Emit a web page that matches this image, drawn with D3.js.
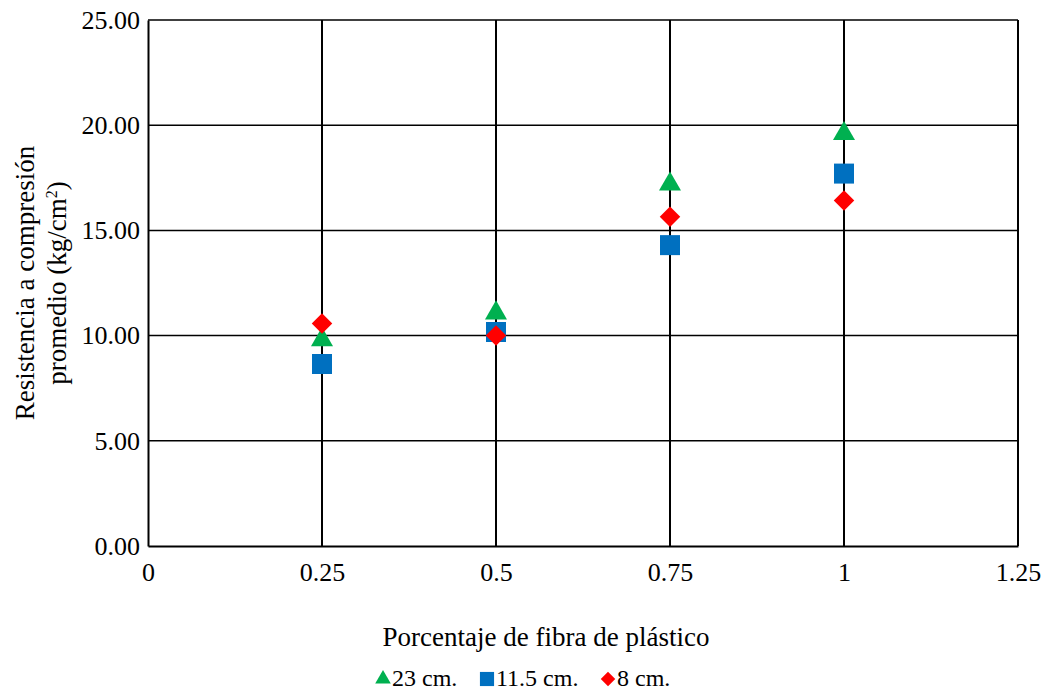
<html>
<script src="https://d3js.org/d3.v7.min.js"></script>
<style>
  body { margin: 0; background: #fff; }
  text { font-family: "Liberation Serif", "Times New Roman", serif; fill: #000; }
</style>
<body>
<svg width="1046" height="692"></svg>
<script>
// data
var fibra = [0.25, 0.5, 0.75, 1];
var s23 = [9.8, 11.07, 17.2, 19.6];
var s115 = [8.65, 10.17, 14.3, 17.7];
var s8 = [10.58, 10.01, 15.65, 16.42];
var yTicks = [0, 5, 10, 15, 20, 25];
var xTicks = [0, 0.25, 0.5, 0.75, 1, 1.25];

var series = [
  { name: "23 cm.", values: s23, color: "#00b050", shape: d3.symbolTriangle, size: 210, rot: 0 },
  { name: "11.5 cm.", values: s115, color: "#0070c0", shape: d3.symbolSquare, size: 400, rot: 0 },
  { name: "8 cm.", values: s8, color: "#ff0000", shape: d3.symbolSquare, size: 210, rot: 45 }
];

var pLeft = 148, pRight = 1018, pTop = 20, pBottom = 546;
var svg = d3.select("svg");

var x = d3.scaleLinear().domain([0, 1.25]).range([pLeft, pRight]);
var y = d3.scaleLinear().domain([0, 25]).range([pBottom, pTop]);

// horizontal gridlines
svg.append("g")
  .selectAll("line")
  .data(yTicks.filter(function(d) { return d > 0; }))
  .enter().append("line")
    .attr("x1", pLeft).attr("x2", pRight)
    .attr("y1", function(d) { return y(d); })
    .attr("y2", function(d) { return y(d); })
    .attr("stroke", "#000").attr("stroke-width", 1.5);

// vertical gridlines
svg.append("g")
  .selectAll("line")
  .data(xTicks.filter(function(d) { return d > 0; }))
  .enter().append("line")
    .attr("x1", function(d) { return x(d); })
    .attr("x2", function(d) { return x(d); })
    .attr("y1", pTop).attr("y2", pBottom)
    .attr("stroke", "#000").attr("stroke-width", 2);

// axes
var yAxis = svg.append("g")
  .attr("transform", "translate(" + pLeft + ",0)")
  .call(d3.axisLeft(y).tickValues(yTicks).tickSize(0).tickPadding(8)
    .tickFormat(d3.format(".2f")));
var xAxis = svg.append("g")
  .attr("transform", "translate(0," + pBottom + ")")
  .call(d3.axisBottom(x).tickValues(xTicks).tickSize(0).tickPadding(17)
    .tickFormat(function(d) { return String(d); }));
[yAxis, xAxis].forEach(function(a) {
  a.select(".domain").attr("stroke", "#000").attr("stroke-width", 2);
  a.selectAll("text").style("font-size", "26px")
    .style("font-family", "'Liberation Serif', serif");
});

// markers
series.forEach(function(s) {
  svg.append("g")
    .selectAll("path")
    .data(s.values)
    .enter().append("path")
      .attr("d", d3.symbol().type(s.shape).size(s.size))
      .attr("transform", function(d, i) {
        return "translate(" + x(fibra[i]) + "," + y(d) + ") rotate(" + s.rot + ")";
      })
      .attr("fill", s.color);
});

// axis titles
svg.append("text")
  .attr("x", 546).attr("y", 646)
  .attr("text-anchor", "middle").style("font-size", "27px")
  .text("Porcentaje de fibra de plástico");

var yt = svg.append("text")
  .attr("transform", "translate(0,283) rotate(-90)")
  .attr("text-anchor", "middle").style("font-size", "27px");
yt.append("tspan").attr("x", 0).attr("y", 34).text("Resistencia a compresión");
var l2 = yt.append("tspan").attr("x", 0).attr("y", 66);
l2.append("tspan").text("promedio (kg/cm");
l2.append("tspan").attr("dy", -9).style("font-size", "16px").text("2");
l2.append("tspan").attr("dy", 9).text(")");

// legend
var legX = [383, 487, 608];
var leg = svg.append("g");
series.forEach(function(s, i) {
  leg.append("path")
    .attr("d", d3.symbol().type(s.shape).size(s.size * 0.5))
    .attr("transform", "translate(" + legX[i] + ",679) rotate(" + s.rot + ")")
    .attr("fill", s.color);
  leg.append("text")
    .attr("x", legX[i] + 9).attr("y", 686)
    .style("font-size", "24px")
    .text(s.name);
});
</script>
</body>
</html>
